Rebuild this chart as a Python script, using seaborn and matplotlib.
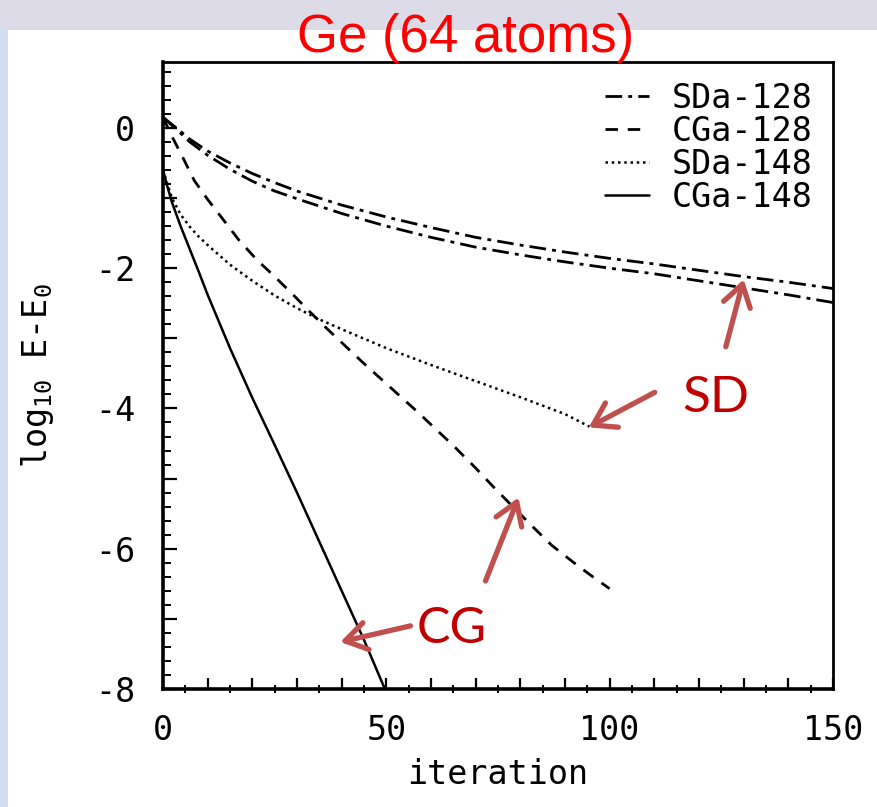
import numpy as np
import pandas as pd
import matplotlib
matplotlib.use("Agg")
import matplotlib.pyplot as plt
import seaborn as sns
from matplotlib.ticker import MultipleLocator, FuncFormatter
from matplotlib.patches import Rectangle

# ---------------- data ----------------
sd128a_x = [0, 3, 6, 10, 15, 20, 25, 30, 40, 50, 60, 70, 80, 90, 100, 110, 120, 130, 140, 150]
sd128a_y = [0.15, 0.0, -0.16, -0.33, -0.5, -0.65, -0.78, -0.9, -1.1, -1.27, -1.42, -1.56,
            -1.67, -1.77, -1.86, -1.94, -2.03, -2.12, -2.2, -2.29]
sd128b_x = [0, 3, 6, 10, 15, 20, 25, 30, 40, 50, 60, 70, 80, 90, 100, 110, 120, 130, 140, 150]
sd128b_y = [0.15, -0.02, -0.2, -0.39, -0.59, -0.76, -0.9, -1.01, -1.22, -1.4, -1.56, -1.7,
            -1.81, -1.91, -2.0, -2.08, -2.18, -2.28, -2.38, -2.49]
cg128_x = [0, 2, 4.5, 7, 10, 14, 17, 21, 25, 29, 33, 37, 41, 45, 49, 53, 57, 61, 65, 70,
           74, 78, 83, 87, 92, 96, 100]
cg128_y = [0.15, -0.12, -0.43, -0.75, -1.02, -1.35, -1.6, -1.88, -2.12, -2.37, -2.63, -2.88,
           -3.12, -3.36, -3.59, -3.82, -4.05, -4.29, -4.53, -4.85, -5.12, -5.38, -5.7,
           -5.95, -6.2, -6.39, -6.57]
sd148_x = [0, 1, 2, 4, 6, 8, 10, 15, 20, 25, 30, 35, 40, 50, 60, 70, 80, 90, 95.5]
sd148_y = [-0.6, -0.8, -1.0, -1.24, -1.41, -1.55, -1.67, -1.95, -2.18, -2.39, -2.57, -2.73,
           -2.87, -3.14, -3.38, -3.61, -3.84, -4.08, -4.26]
cg148_x = [0, 1, 2, 4, 6, 8, 10, 15, 20, 25, 30, 35, 40, 45, 50]
cg148_y = [-0.6, -0.84, -1.06, -1.41, -1.73, -2.05, -2.38, -3.14, -3.85, -4.52, -5.2, -5.9,
           -6.6, -7.3, -8.05]

legend_labels = ["SDa-128", "CGa-128", "SDa-148", "CGa-148"]
x_tick_labels = [0, 50, 100, 150]
y_tick_labels = [-8, -6, -4, -2, 0]
title_text = "Ge (64 atoms)"
xlabel_text = "iteration"
ylabel_text = "log$_{10}$ E-E$_0$"

# ---------------- style ----------------
sns.set_style("white")
plt.rcParams["font.family"] = ["DejaVu Sans"]
plt.rcParams["mathtext.default"] = "regular"
for k in ["text.color", "axes.labelcolor", "xtick.color", "ytick.color"]:
    plt.rcParams[k] = "black"

W, H = 878, 807
fig = plt.figure(figsize=(W / 100, H / 100), dpi=100)
fig.patch.set_facecolor("white")
# slide-like background bands
fig.patches.append(Rectangle((0, 1 - 30 / H), 1, 30 / H, transform=fig.transFigure,
                             facecolor="#dcdbe7", edgecolor="none", zorder=-10))
fig.patches.append(Rectangle((0, 0), 8 / W, 1 - 30 / H, transform=fig.transFigure,
                             facecolor="#cfdcf1", edgecolor="none", zorder=-10))

L, R, T, B = 163, 833, 62, 689
ax = fig.add_axes([L / W, 1 - B / H, (R - L) / W, (B - T) / H])
ax.set_facecolor("white")

mono = "DejaVu Sans Mono"

series = [
    (sd128a_x, sd128a_y, "_nolegend_", (6, 2.2, 1.4, 2.2), 2.0),
    (sd128b_x, sd128b_y, legend_labels[0], (6, 2.2, 1.4, 2.2), 2.0),
    (cg128_x, cg128_y, legend_labels[1], (4.5, 3.5), 2.0),
    (sd148_x, sd148_y, legend_labels[2], (1, 1.5), 1.8),
    (cg148_x, cg148_y, legend_labels[3], None, 1.8),
]
handles = {}
for xs, ys, lab, dash, lw in series:
    df = pd.DataFrame({"iteration": xs, "logE": ys})
    sns.lineplot(data=df, x="iteration", y="logE", ax=ax, color="black", lw=lw,
                 label=lab, legend=False)
    line = ax.lines[-1]
    if dash is not None:
        line.set_dashes(dash)
    if lab != "_nolegend_":
        handles[lab] = line

ax.set_xlim(0, 150)
ax.set_ylim(-8, 0.94)

for name, s in ax.spines.items():
    s.set_color("black")
    s.set_linewidth(2.6 if name in ("left", "bottom") else 2.0)
    s.set_visible(True)

ax.xaxis.set_major_locator(MultipleLocator(10))
ax.xaxis.set_minor_locator(MultipleLocator(5))
ax.yaxis.set_major_locator(MultipleLocator(1))
ax.yaxis.set_minor_locator(MultipleLocator(0.2))
ax.xaxis.set_major_formatter(FuncFormatter(
    lambda v, p: f"{v:.0f}" if any(abs(v - t) < 1e-6 for t in x_tick_labels) else ""))
ax.yaxis.set_major_formatter(FuncFormatter(
    lambda v, p: f"{v:.0f}" if any(abs(v - t) < 1e-6 for t in y_tick_labels) else ""))
ax.tick_params(axis="x", which="major", direction="in", length=8, width=1.6,
               pad=18, labelsize=24, top=False, bottom=True)
ax.tick_params(axis="x", which="minor", direction="inout", length=6, width=1.4,
               top=False, bottom=True)
ax.tick_params(axis="y", which="major", direction="in", length=10, width=1.6,
               pad=20, labelsize=24, left=True, right=False)
ax.tick_params(axis="y", which="minor", direction="in", length=6, width=1.4,
               left=True, right=False)
for lbl in ax.get_xticklabels() + ax.get_yticklabels():
    lbl.set_fontfamily(mono)

ax.set_xlabel(xlabel_text, fontsize=24, family=mono, labelpad=8)
ax.set_ylabel(ylabel_text, fontsize=24, family=mono, labelpad=28)

leg = ax.legend([handles[k] for k in legend_labels], legend_labels, loc="upper right",
                frameon=False, handlelength=1.3, handletextpad=0.7,
                labelspacing=0.0, borderaxespad=0.2,
                prop={"family": mono, "size": 24})

# ---------------- red annotations ----------------
fig.text(466 / W, 1 - 52 / H, title_text, color="#ff0000", fontsize=38,
         family=["Liberation Sans", "DejaVu Sans"], ha="center", va="baseline")
fig.text(682 / W, 1 - 412 / H, "SD", color="#c00000", fontsize=37,
         family=["Lato", "DejaVu Sans"], ha="left", va="baseline")
fig.text(417 / W, 1 - 643 / H, "CG", color="#c00000", fontsize=36,
         family=["Lato", "DejaVu Sans"], ha="left", va="baseline")

arrow_kw = dict(arrowstyle="->,head_length=0.7,head_width=0.45", lw=3.8,
                color="#c0504d", mutation_scale=22, shrinkA=0, shrinkB=0)
arrows = [((130, -2.16), (126, -3.12)),
          ((95.3, -4.27), (110.1, -3.77)),
          ((79.6, -5.27), (72.2, -6.46)),
          ((39.7, -7.33), (55.4, -7.10))]
for head, tail in arrows:
    ax.annotate("", xy=head, xytext=tail, xycoords="data", textcoords="data",
                arrowprops=arrow_kw, annotation_clip=False)

fig.savefig("out.png", dpi=100)
